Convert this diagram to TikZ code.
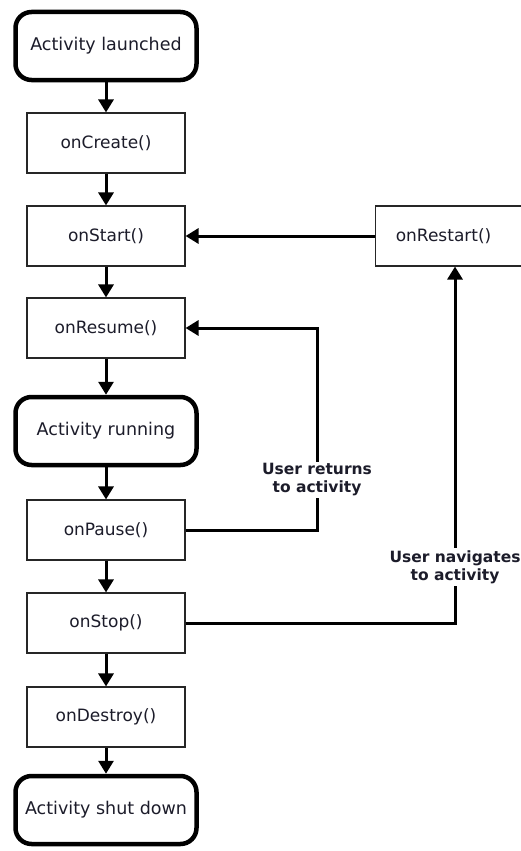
\documentclass[tikz,border=0pt]{standalone}
\usepackage{fontspec}
\setmainfont{DejaVu Sans}
\usetikzlibrary{arrows.meta}
\definecolor{ink}{HTML}{1C1C2A}
\begin{document}
\begin{tikzpicture}[x=1pt,y=-1pt,
  state/.style={draw=black,line width=4.5pt,rounded corners=16pt,minimum width=181pt,minimum height=68pt,
    font=\fontsize{17.5}{19}\selectfont,text=ink,inner sep=0pt},
  callback/.style={draw=black!85,line width=1.1pt,minimum width=158pt,minimum height=60pt,
    font=\fontsize{17}{19}\selectfont,text=ink,inner sep=0pt},
  flow/.style={line width=3pt,-{Triangle[length=13pt,width=15pt]}},
  note/.style={font=\bfseries\fontsize{15.5}{18}\selectfont,text=ink,align=center,fill=white,inner sep=2pt}]
\useasboundingbox (0,0) rectangle (521,851);
\fill[white] (0,0) rectangle (521,851);

% lifecycle column
\node[state]    (launched) at (106,46)  {Activity launched};
\node[callback] (create)   at (106,143) {onCreate()};
\node[callback] (start)    at (106,236) {onStart()};
\node[callback] (resume)   at (106,328) {onResume()};
\node[state]    (running)  at (106,431) {Activity running};
\node[callback] (pause)    at (106,530) {onPause()};
\node[callback] (stop)     at (106,623) {onStop()};
\node[callback] (destroy)  at (106,717) {onDestroy()};
\node[state]    (shutdown) at (106,810) {Activity shut down};
\node[callback,minimum width=150pt,anchor=west] (restart) at (375,236) {\hspace*{-14pt}onRestart()};

\draw[flow] (launched) -- (create);
\draw[flow] (create) -- (start);
\draw[flow] (start) -- (resume);
\draw[flow] (resume) -- (running);
\draw[flow] (running) -- (pause);
\draw[flow] (pause) -- (stop);
\draw[flow] (stop) -- (destroy);
\draw[flow] (destroy) -- (shutdown);

% return paths
\draw[flow] (restart.west) -- (start.east);
\draw[flow] (pause.east) -- (317,530) -- (317,328) -- (resume.east);
\coordinate (navx) at (455,623);
\draw[flow] (stop.east) -- (navx) -- (navx |- restart.south);

\node[note] (returns) at (317,480) {User returns\\to activity};
\node[note] (navigates) at (455,567) {User navigates\\to activity};
\end{tikzpicture}
\end{document}
